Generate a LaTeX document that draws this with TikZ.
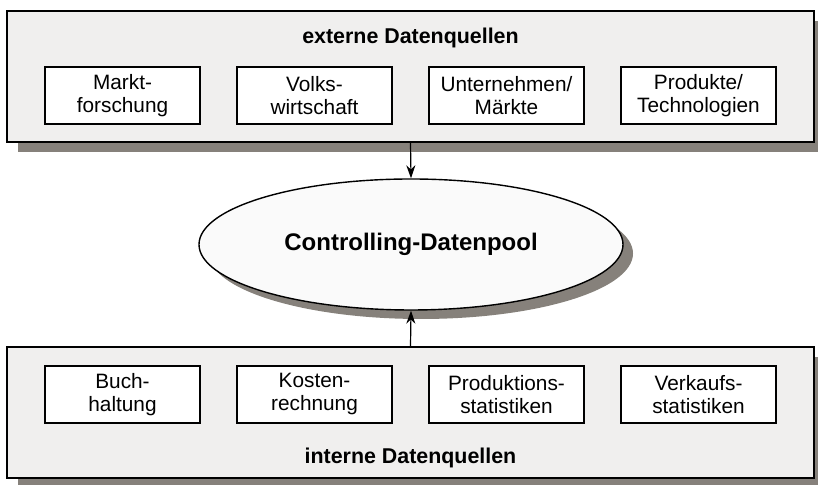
\documentclass[tikz,border=0pt]{standalone}
\usepackage{fontspec}
\setmainfont{Liberation Sans}
\usetikzlibrary{shapes.geometric,shadows,arrows.meta}
\definecolor{quellgrau}{RGB}{240,239,238}
\definecolor{schatten}{RGB}{134,129,123}
\definecolor{poolweiss}{RGB}{250,250,250}
\tikzset{
	quelle/.style={draw, line width=0.7pt, fill=quellgrau, minimum width=403.5pt, minimum height=65.5pt, inner sep=0pt,
		general shadow={shadow xshift=5.5pt, shadow yshift=-5pt, fill=schatten}},
	feld/.style={draw, line width=0.7pt, fill=white, minimum width=77.5pt, minimum height=28.5pt, inner sep=0pt, align=center,
		font=\fontsize{10.4}{11.5}\selectfont},
	titel/.style={font=\fontsize{10.7}{12}\selectfont\bfseries},
	pool/.style={ellipse, draw, line width=0.7pt, fill=poolweiss, minimum width=212pt, minimum height=65.5pt, inner sep=0pt,
		font=\fontsize{12}{14}\selectfont\bfseries, general shadow={shadow xshift=5pt, shadow yshift=-4.5pt, fill=schatten}},
	fluss/.style={line width=0.6pt, -{Stealth[length=6.5pt, width=4.5pt]}}
}
\begin{document}
\begin{tikzpicture}[x=0.5pt, y=0.5pt]
	\useasboundingbox (0,0) rectangle (818,485);
	% EXTERNE QUELLEN
	\node[quelle] (extern) at (410.5,408.5) {};
	\node[titel, anchor=base] (externtitel) at (410.5,441) {externe Datenquellen};
	\node[feld] (markt) at (122.5,389.5) {Markt-\\forschung};
	\node[feld] (volks) at (314.5,389.5) {Volks-\\wirtschaft};
	\node[feld] (unternehmen) at (506.5,389.5) {Unternehmen/\\Märkte};
	\node[feld] (produkte) at (698.5,389.5) {Produkte/\\Technologien};
	% INTERNE QUELLEN
	\node[quelle] (intern) at (410.5,72.5) {};
	\node[titel, anchor=base] (interntitel) at (410.5,21) {interne Datenquellen};
	\node[feld] (buch) at (122.5,90.5) {Buch-\\haltung};
	\node[feld] (kosten) at (314.5,90.5) {Kosten-\\rechnung};
	\node[feld] (produktion) at (506.5,90.5) {Produktions-\\statistiken};
	\node[feld] (verkauf) at (698.5,90.5) {Verkaufs-\\statistiken};
	% DATENPOOL
	\node[pool] (datenpool) at (411,240.5) {Controlling-Datenpool};
	% PFEILE
	\draw[fluss] (extern.south) -- (datenpool.north);
	\draw[fluss] (intern.north) -- (datenpool.south);
\end{tikzpicture}
\end{document}
